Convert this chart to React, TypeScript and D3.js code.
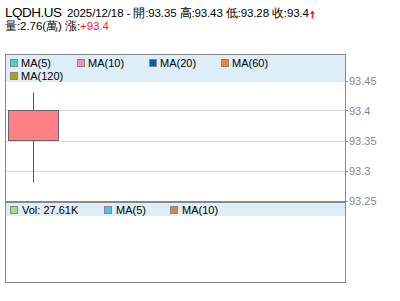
import React from "react";
import * as d3 from "d3";

const symbol = "LQDH.US";
const dates = ["2025/12/18"];
const opens = [93.35];
const highs = [93.43];
const lows = [93.28];
const closes = [93.4];
const volumeLabel = "27.61K";
const volumeWan = "2.76";
const change = "+93.4";
const yTicks = [93.25, 93.3, 93.35, 93.4, 93.45];
const mainLegend = ["MA(5)", "MA(10)", "MA(20)", "MA(60)", "MA(120)"];
const mainLegendColors = ["#44d4d4", "#ff88bb", "#0060b4", "#ff8020", "#b4a400"];
const volLegend = ["Vol: " + volumeLabel, "MA(5)", "MA(10)"];
const volLegendColors = ["#a4e088", "#50c0f0", "#c48c44"];

const FONT = "'Liberation Sans', Arial, sans-serif";

export default function App() {
  const left = 5.5, right = 345.5, top = 54.5, bottom = 282.5;
  const y = d3.scaleLinear().domain([93.25, 93.45]).range([200.5, 80.5]);
  const x = d3.scaleBand().domain(dates).range([8, 8 + 51 * dates.length]).padding(0);
  const mainLegPos = [
    [10, 59], [77, 59], [149, 59], [221, 59], [10, 72],
  ];
  const volLegPos = [[10, 206], [104, 206], [170, 206]];
  return (
    <svg width={400} height={301} style={{ position: "absolute", left: 0, top: 0, background: "#fff" }} fontFamily={FONT}>
      {/* header */}
      <text x={5} y={17} fontSize={13.5} textLength={57} lengthAdjust="spacing">{symbol}</text>
      <text x={67} y={17} fontSize={11.5} textLength={242} lengthAdjust="spacing">
        {`${dates[0]} - 開:${opens[0]} 高:${highs[0]} 低:${lows[0]} 收:${closes[0]}`}
      </text>
      <path d="M312.5,10.5 L315,14 L313.3,14 L313.3,18.5 L311.7,18.5 L311.7,14 L310,14 Z" fill="#ff2020" />
      <text x={5} y={30} fontSize={11.5} textLength={104} lengthAdjust="spacing">
        {`量:${volumeWan}(萬) 漲:`}
        <tspan fill="#ff2020">{change}</tspan>
      </text>
      {/* main legend band */}
      <rect x={6} y={55} width={339} height={27} fill="#ddeef9" />
      {mainLegend.map((m, i) => (
        <g key={m}>
          <rect x={mainLegPos[i][0] + 0.5} y={mainLegPos[i][1] + 0.5} width={7} height={7} fill={mainLegendColors[i]} stroke="#888" />
          <text x={mainLegPos[i][0] + 11} y={mainLegPos[i][1] + 8} fontSize={11}>{m}</text>
        </g>
      ))}
      {/* gridlines */}
      {yTicks.slice(1, 4).map((t) => (
        <line key={t} x1={6} x2={345} y1={Math.round(y(t)) + 0.5} y2={Math.round(y(t)) + 0.5} stroke="#dddddd" />
      ))}
      {/* candles */}
      {dates.map((d, i) => {
        const cx = (x(d) as number) + x.bandwidth() / 2;
        const up = closes[i] >= opens[i];
        const yTop = y(Math.max(opens[i], closes[i]));
        const yBot = y(Math.min(opens[i], closes[i]));
        return (
          <g key={d}>
            <line x1={Math.floor(cx) + 0.5} x2={Math.floor(cx) + 0.5} y1={y(highs[i])} y2={y(lows[i])} stroke="#555" />
            <rect x={(x(d) as number) + 0.5} y={yTop} width={x.bandwidth() - 1} height={yBot - yTop}
              fill={up ? "#ff8087" : "#80c080"} stroke="#666" />
          </g>
        );
      })}
      {/* y axis ticks */}
      {yTicks.map((t) => (
        <g key={t}>
          <line x1={345} x2={348} y1={Math.round(y(t)) + 0.5} y2={Math.round(y(t)) + 0.5} stroke="#888" />
          <text x={349} y={y(t) + 4} fontSize={11} fill="#888">{String(t)}</text>
        </g>
      ))}
      {/* volume legend band */}
      <rect x={6} y={203} width={339} height={13} fill="#ddeef9" />
      {volLegend.map((m, i) => (
        <g key={m}>
          <rect x={volLegPos[i][0] + 0.5} y={volLegPos[i][1] + 0.5} width={7} height={7} fill={volLegendColors[i]} stroke="#888" />
          <text x={volLegPos[i][0] + 12} y={volLegPos[i][1] + 8} fontSize={11}>{m}</text>
        </g>
      ))}
      {/* frame */}
      <rect x={left} y={top} width={right - left} height={bottom - top} fill="none" stroke="#888" />
      <line x1={5} x2={346} y1={202} y2={202} stroke="#888" strokeWidth={2} />
    </svg>
  );
}
